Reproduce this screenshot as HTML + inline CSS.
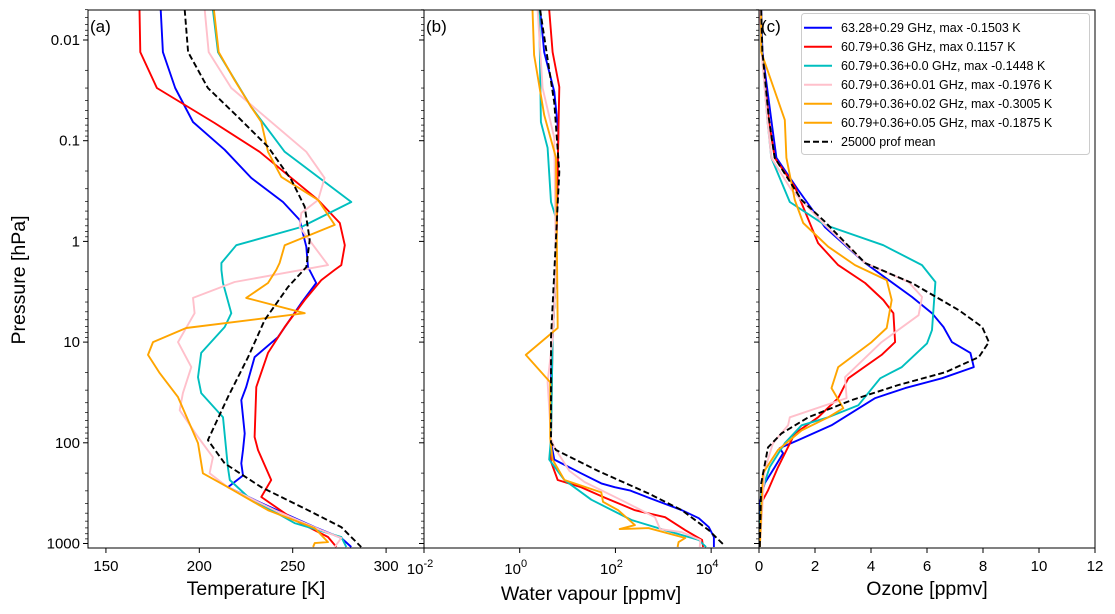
<!DOCTYPE html>
<html><head><meta charset="utf-8">
<style>
body{margin:0;background:#fff;}
svg{display:block;font-family:"Liberation Sans","DejaVu Sans",sans-serif;}
</style></head>
<body>
<svg id="fig" width="1115" height="614" viewBox="0 0 1115 614"></svg>
<script>
// ---------- DATA ----------
const seriesNames = ["63.28+0.29 GHz, max -0.1503 K","60.79+0.36 GHz, max 0.1157 K","60.79+0.36+0.0 GHz, max -0.1448 K","60.79+0.36+0.01 GHz, max -0.1976 K","60.79+0.36+0.02 GHz, max -0.3005 K","60.79+0.36+0.05 GHz, max -0.1875 K","25000 prof mean"];
const seriesColors = ["#0000ff","#ff0000","#00bfbf","#ffc0cb","#ffa500","#ffa500","#000000"];

// Temperature panel (a)
const tBlueP = [0.005,0.0132,0.030,0.0652,0.123,0.234,0.406,0.612,1.13,1.80,2.59,4.09,8.94,14.1,27.9,37.7,80.9,118,160,211,276,397,687,882,1084];
const tBlueV = [179.3,180.5,187.1,196.6,213.6,227.8,244.8,253.7,257.3,258.2,262.6,254.6,242.1,229.6,225.1,222.5,224.3,223.4,222.5,223.4,215.3,233.2,261.8,276,281.4];
const tRedP = [0.005,0.0132,0.030,0.0667,0.129,0.388,0.656,1.09,1.72,1.92,2.42,3.82,7.08,12.8,27.9,87.6,118,234,345,584,862,1084];
const tRedV = [168,168.4,177.3,208.2,232.3,263.6,275.2,277.9,276,272.5,265.3,256.4,245.7,236.8,230.5,229.6,231.4,238.5,233.2,251,268.9,273.4];
const tCyanP = [0.005,0.0132,0.0463,0.129,0.406,0.719,1.09,1.64,1.92,2.59,5.16,7.08,12.8,22.3,32.1,55.8,175,234,345,627,862,1084];
const tCyanV = [207.3,210,227.8,245.7,281.4,254.6,219.8,211.8,211.8,212.7,217.1,213.6,201,199.3,201,212.7,215.3,216.3,226.1,251,276,278.7];
const tPinkP = [0.005,0.0132,0.030,0.129,0.234,0.388,0.522,0.719,1.72,1.92,2.53,3.64,5.16,10.0,17.7,32.1,47.5,87.6,139,201,276,467,737,882,1084];
const tPinkV = [202.9,205,217.1,257.3,267.1,263.6,254.6,253.7,268.9,254.6,218.9,196.6,197.5,188.6,195.7,191.2,189.5,199.3,207.3,205.5,215.3,240.4,265.3,276,272.5];
const tOrangeP = [0.005,0.0132,0.025,0.0463,0.0652,0.129,0.229,0.388,0.686,1.09,1.64,1.92,2.59,3.64,5.16,7.25,10.0,13.4,20.3,35.2,100.7,201,276,467,703,968,990,1084];
const tOrangeV = [207.8,210.4,218.9,227.8,233.2,236.8,243.9,263.6,272.5,245.7,243,241.2,236.8,225.1,256.4,193,175.2,172.5,178.8,188.6,199.3,201.9,215.3,236.8,261.8,268.9,261.8,260.9];
const tMeanP = [0.005,0.0132,0.030,0.0582,0.115,0.245,0.452,0.966,1.80,2.84,6.03,14.1,35.2,94.0,160,276,467,687,1084];
const tMeanV = [192.2,194,204.6,220.7,236.8,249.3,256.4,259.1,257.3,247.5,235,226.1,215.3,204.6,213.6,233.2,258.2,276,286.7];

// Water vapour panel (b)
const wBlueP = [0.005,0.0132,0.0328,0.082,2.0,9.1,25.0,99,147,201,253,276,297,350,467,561,687,862,1084];
const wBlueV = [2.67,3.25,5.27,6.40,5.73,4.87,4.50,4.50,5.27,19.2,50.7,96.6,200,488,2450,5510,8950,11400,11400];
const wRedP = [0.005,0.0132,0.0293,0.094,2.0,9.1,90.3,154,234,276,350,467,548,737,923,1084];
const wRedV = [4.14,4.87,6.71,6.40,5.73,4.87,4.50,4.50,6.22,19.2,59.6,255,1090,2880,6470,6790];
const wCyanP = [0.005,0.0652,0.118,0.406,0.585,2.0,9.1,90.3,147,234,367,584,737,923,1084];
const wCyanV = [2.55,2.77,3.83,4.50,5.73,5.73,4.87,4.50,4.14,8.57,31.3,217,1090,5510,7850];
const wPinkP = [0.005,0.030,0.094,2.0,9.1,25.0,90.3,111,190,245,385,548,720,772,923,1084];
const wPinkV = [2.36,3.01,5.27,5.73,4.87,3.83,4.50,5.27,10.9,22.6,157,671,857,2450,5960,5780];
const wOrangeP = [0.005,0.0141,0.0556,0.148,7.25,13.4,25.0,90.3,147,234,311,385,467,656,720,703,882,968,1084];
const wOrangeV = [1.85,2.00,3.25,5.73,6.22,1.34,4.34,4.34,4.87,8.57,50.7,55.1,114,255,123,488,2880,2090,1990];
const wMeanP = [0.005,0.0421,0.204,9.1,99,118,190,318,467,737,1036];
const wMeanV = [2.67,5.27,6.71,4.50,4.50,5.73,43.3,488,2450,8950,18500];

// Ozone panel (c)
const oBlueP = [0.005,0.0132,0.0622,0.148,0.309,0.719,1.64,3.56,5.16,7.08,10.0,12.8,17.7,22.9,28.6,36.0,67.0,94.0,113,127,175,253,397,1084];
const oBlueV = [0.08,0.12,0.44,0.62,1.40,2.35,3.79,5.46,6.18,6.59,6.89,7.55,7.67,6.53,5.22,4.15,2.59,1.40,0.74,0.86,0.56,0.20,0.03,0.03];
const oRedP = [0.005,0.0132,0.0622,0.148,0.287,1.04,1.72,2.59,3.82,5.16,10.0,13.4,22.9,36.0,55.8,80.9,175,297,397,1084];
const oRedV = [0.05,0.10,0.35,0.56,1.28,2.11,2.83,3.79,4.44,4.80,4.86,4.38,3.19,2.83,2.11,1.28,0.68,0.32,0.08,0.03];
const oCyanP = [0.005,0.0132,0.0622,0.148,0.406,0.686,1.09,1.72,2.53,7.60,10.3,17.7,22.9,42.3,55.8,67.0,101,175,318,1084];
const oCyanV = [0.06,0.10,0.30,0.44,1.10,2.35,4.44,5.82,6.30,6.18,6.00,5.10,4.33,3.55,2.47,1.52,0.92,0.38,0.08,0.03];
const oPinkP = [0.005,0.0132,0.0622,0.148,0.309,0.686,1.64,2.53,3.56,5.41,10.0,22.3,36.0,55.8,67.0,101,188,1084];
const oPinkV = [0.05,0.09,0.30,0.44,1.16,2.35,3.79,5.34,5.82,5.70,4.38,3.07,3.13,1.10,1.04,0.50,0.20,0.03];
const oOrangeP = [0.00565,0.0132,0.0622,0.148,0.388,0.656,1.13,1.72,2.42,3.82,7.25,10.0,17.7,28.6,45.3,55.8,75.3,118,201,1084];
const oOrangeV = [0.08,0.08,0.92,0.98,1.28,1.58,2.47,3.43,4.56,4.74,4.56,4.02,2.83,2.59,3.01,2.47,1.52,0.68,0.14,0.03];
const oMeanP = [0.005,0.0132,0.0595,0.148,0.388,0.636,1.64,2.59,4.80,7.08,10.0,14.1,19.9,26.7,37.7,55.8,80.9,111,253,1084];
const oMeanV = [0.08,0.12,0.35,0.56,1.52,2.35,3.79,5.46,7.13,7.97,8.21,7.85,6.66,4.98,3.31,1.76,0.80,0.32,0.08,0.03];

const tTicks = [150,200,250,300];
const wTickExp = [-2,0,2,4];
const oTicks = [0,2,4,6,8,10,12];
const pTicks = [0.01,0.1,1,10,100,1000];
const pTickLabels = ["0.01","0.1","1","10","100","1000"];

// ---------- AXES ----------
const NS="http://www.w3.org/2000/svg";
const svg=document.getElementById('fig');
const TOP=10, BOT=548;
function yP(p){return 40+100.7*(Math.log10(p)+2);}
const panels=[{x0:88,x1:424,min:140.4,max:320.3,log:false,name:'temperature'},
              {x0:424,x1:759,min:-2,max:5,log:true,name:'water-vapour'},
              {x0:759,x1:1095,min:0,max:12,log:false,name:'ozone'}];
function xS(i,v){const a=panels[i];let t=a.log?Math.log10(v):v;return a.x0+(t-a.min)/(a.max-a.min)*(a.x1-a.x0);}
function el(tag,attrs,parent){const e=document.createElementNS(NS,tag);for(const k in attrs)e.setAttribute(k,attrs[k]);(parent||svg).appendChild(e);return e;}
function txt(s,attrs,parent){const e=el('text',attrs,parent);e.textContent=s;return e;}

const seriesByPanel=[
  [[tBlueP,tBlueV],[tRedP,tRedV],[tCyanP,tCyanV],[tPinkP,tPinkV],[tOrangeP,tOrangeV],null,[tMeanP,tMeanV]],
  [[wBlueP,wBlueV],[wRedP,wRedV],[wCyanP,wCyanV],[wPinkP,wPinkV],[wOrangeP,wOrangeV],null,[wMeanP,wMeanV]],
  [[oBlueP,oBlueV],[oRedP,oRedV],[oCyanP,oCyanV],[oPinkP,oPinkV],[oOrangeP,oOrangeV],null,[oMeanP,oMeanV]]
];
const seriesKeys=['blue','red','cyan','pink','orange-002','orange-005','mean'];

panels.forEach((pn,i)=>{
  const g=el('g',{});
  
  
  const cid='clip'+i;
  const cp=el('clipPath',{id:cid},g);
  el('rect',{x:pn.x0,y:TOP,width:pn.x1-pn.x0,height:BOT-TOP},cp);
  const lines=el('g',{'clip-path':'url(#'+cid+')'},g);
  seriesByPanel[i].forEach((s,k)=>{
    if(!s)return;
    const pts=s[0].map((p,j)=>xS(i,s[1][j]).toFixed(1)+','+yP(p).toFixed(1)).join(' ');
    const pl=el('polyline',{points:pts,fill:'none',stroke:seriesColors[k],'stroke-width':1.9,'stroke-linejoin':'round'},lines);
    if(k===6)pl.setAttribute('stroke-dasharray','6,3');
    
    
  });
  el('rect',{x:pn.x0,y:TOP,width:pn.x1-pn.x0,height:BOT-TOP,fill:'none',stroke:'#000','stroke-width':1},g);
  for(let d=-3;d<=3;d++){for(let m=1;m<10;m++){const p=m*Math.pow(10,d);const y=yP(p);if(y<TOP-0.5||y>BOT+0.5)continue;
    el('line',{x1:pn.x0,x2:pn.x0-(m===1?5:3),y1:y,y2:y,stroke:'#000','stroke-width':m===1?1:0.7},g);}}
  const lt=txt('('+'abc'[i]+')',{x:pn.x0+2,y:32,'font-size':17,fill:'#000'},g);
  
  
});

pTicks.forEach((p,j)=>{const t=txt(pTickLabels[j],{x:80,y:yP(p)+5,'font-size':15,'text-anchor':'end'});
  
  });
tTicks.forEach(v=>{const x=xS(0,v);el('line',{x1:x,x2:x,y1:BOT,y2:BOT+5,stroke:'#000'});
  const t=txt(String(v),{x:x,y:571,'font-size':15,'text-anchor':'middle'});
  
  });
wTickExp.forEach(e=>{const x=xS(1,Math.pow(10,e));el('line',{x1:x,x2:x,y1:BOT,y2:BOT+5,stroke:'#000'});
  const t=txt('10',{x:x-4,y:574,'font-size':15,'text-anchor':'middle'});
  const s=el('tspan',{dy:-7,'font-size':11},t);s.textContent=String(e);
  
  });
oTicks.forEach(v=>{const x=xS(2,v);el('line',{x1:x,x2:x,y1:BOT,y2:BOT+5,stroke:'#000'});
  const t=txt(String(v),{x:x,y:571,'font-size':15,'text-anchor':'middle'});
  
  });

let a1=txt('Temperature [K]',{x:256,y:595,'font-size':19.5,'text-anchor':'middle'});

let a2=txt('Water vapour [ppmv]',{x:591,y:600,'font-size':19.5,'text-anchor':'middle'});

let a3=txt('Ozone [ppmv]',{x:927,y:595,'font-size':19.5,'text-anchor':'middle'});

let a4=txt('Pressure [hPa]',{x:0,y:0,'font-size':19.5,'text-anchor':'middle',transform:'translate(25,280) rotate(-90)'});


const lg=el('g',{});


el('rect',{x:801.5,y:13.5,width:288,height:141,rx:3,fill:'#fff',stroke:'#ccc','stroke-width':1},lg);
seriesNames.forEach((nm,k)=>{const y=27.7+k*19;
  const ln=el('line',{x1:804,x2:832,y1:y,y2:y,stroke:seriesColors[k],'stroke-width':2},lg);
  if(k===6)ln.setAttribute('stroke-dasharray','6,3');
  const t=txt(nm,{x:841,y:y+4.5,'font-size':12.5},lg);
  
  });
</script>
</body></html>
